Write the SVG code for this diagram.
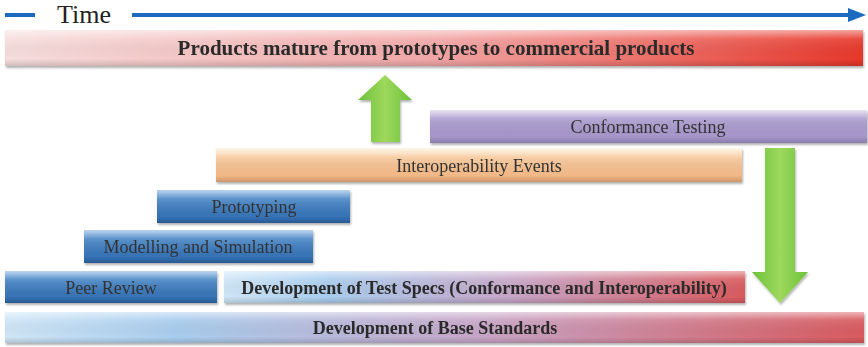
<svg xmlns="http://www.w3.org/2000/svg" width="868" height="347" viewBox="0 0 868 347">
<defs>
<linearGradient id="gTop" x1="0" y1="0" x2="1" y2="0">
<stop offset="0" stop-color="#f7dede"/><stop offset="0.5" stop-color="#f2a7a7"/><stop offset="1" stop-color="#e8372a"/>
</linearGradient>
<linearGradient id="gPurple" x1="0" y1="0" x2="0" y2="1">
<stop offset="0" stop-color="#c8bde0"/><stop offset="0.25" stop-color="#ad9fd0"/><stop offset="1" stop-color="#a393c8"/>
</linearGradient>
<linearGradient id="gPeach" x1="0" y1="0" x2="0" y2="1">
<stop offset="0" stop-color="#fbe6c9"/><stop offset="0.3" stop-color="#f7c99c"/><stop offset="1" stop-color="#f1b27f"/>
</linearGradient>
<linearGradient id="gBlue" x1="0" y1="0" x2="0" y2="1">
<stop offset="0" stop-color="#6aa0d8"/><stop offset="0.3" stop-color="#4a87c6"/><stop offset="1" stop-color="#2f6aae"/>
</linearGradient>
<linearGradient id="gMix" x1="0" y1="0" x2="1" y2="0">
<stop offset="0" stop-color="#cfe6f7"/><stop offset="0.2" stop-color="#a9cdee"/><stop offset="0.55" stop-color="#c7a6c8"/><stop offset="1" stop-color="#d95a5e"/>
</linearGradient>
<linearGradient id="gShine" x1="0" y1="0" x2="0" y2="1">
<stop offset="0" stop-color="#ffffff" stop-opacity="0.55"/><stop offset="0.25" stop-color="#ffffff" stop-opacity="0.1"/><stop offset="0.8" stop-color="#000000" stop-opacity="0"/><stop offset="1" stop-color="#000000" stop-opacity="0.15"/>
</linearGradient>
<linearGradient id="gGreenV" x1="0" y1="0" x2="1" y2="0">
<stop offset="0" stop-color="#6cc23a"/><stop offset="0.5" stop-color="#9ed85c"/><stop offset="1" stop-color="#6cc23a"/>
</linearGradient>
<filter id="sh" x="-5%" y="-20%" width="110%" height="150%">
<feDropShadow dx="1" dy="2" stdDeviation="1.2" flood-color="#000" flood-opacity="0.3"/>
</filter>
</defs>
<style>
.t{font-family:"Liberation Serif","Times New Roman",serif;fill:#333;text-anchor:middle;dominant-baseline:central}
.n{font-size:18px}
.b{font-size:18px;font-weight:bold;fill:#2a2a2a}
.shine{fill:url(#gShine)}
</style>
<rect width="868" height="347" fill="#ffffff"/>

<g id="time">
<line x1="5" y1="15" x2="35" y2="15" stroke="#1b6cc0" stroke-width="4"/>
<text x="84" y="14" class="t" style="font-size:26px;fill:#222">Time</text>
<line x1="132" y1="15" x2="850" y2="15" stroke="#1b6cc0" stroke-width="4"/>
<polygon points="848,8 866,15 848,22" fill="#1b6cc0"/>
</g>

<g id="products" filter="url(#sh)">
<rect x="5" y="30" width="858" height="36" fill="url(#gTop)"/>
<rect x="5" y="30" width="858" height="36" class="shine"/>
<text x="436" y="48" class="t b" style="font-size:21px">Products mature from prototypes to commercial products</text>
</g>

<g id="up-arrow" filter="url(#sh)">
<polygon points="371,142 371,100 358,100 385,75 412,100 400,100 400,142" fill="url(#gGreenV)"/>
</g>

<g id="conformance" filter="url(#sh)">
<rect x="430" y="110" width="437" height="33" fill="url(#gPurple)"/>
<rect x="430" y="110" width="437" height="33" class="shine"/>
<text x="648" y="127" class="t n">Conformance Testing</text>
</g>

<g id="interop" filter="url(#sh)">
<rect x="216" y="148" width="526" height="34" fill="url(#gPeach)"/>
<rect x="216" y="148" width="526" height="34" class="shine"/>
<text x="479" y="166" class="t n">Interoperability Events</text>
</g>

<g id="down-arrow" filter="url(#sh)">
<polygon points="765,148 795,148 795,272 808,272 780,303 752,272 765,272" fill="url(#gGreenV)"/>
</g>

<g id="prototyping" filter="url(#sh)">
<rect x="157" y="190" width="193" height="33" fill="url(#gBlue)"/>
<rect x="157" y="190" width="193" height="33" class="shine"/>
<text x="254" y="207" class="t n">Prototyping</text>
</g>

<g id="modelling" filter="url(#sh)">
<rect x="84" y="230" width="229" height="33" fill="url(#gBlue)"/>
<rect x="84" y="230" width="229" height="33" class="shine"/>
<text x="198" y="247" class="t n">Modelling and Simulation</text>
</g>

<g id="peer" filter="url(#sh)">
<rect x="5" y="271" width="212" height="32" fill="url(#gBlue)"/>
<rect x="5" y="271" width="212" height="32" class="shine"/>
<text x="111" y="288" class="t n">Peer Review</text>
</g>

<g id="testspecs" filter="url(#sh)">
<rect x="224" y="271" width="521" height="32" fill="url(#gMix)"/>
<rect x="224" y="271" width="521" height="32" class="shine"/>
<text x="484" y="288" class="t b">Development of Test Specs (Conformance and Interoperability)</text>
</g>

<g id="base" filter="url(#sh)">
<rect x="5" y="312" width="859" height="31" fill="url(#gMix)"/>
<rect x="5" y="312" width="859" height="31" class="shine"/>
<text x="435" y="328" class="t b">Development of Base Standards</text>
</g>
</svg>
